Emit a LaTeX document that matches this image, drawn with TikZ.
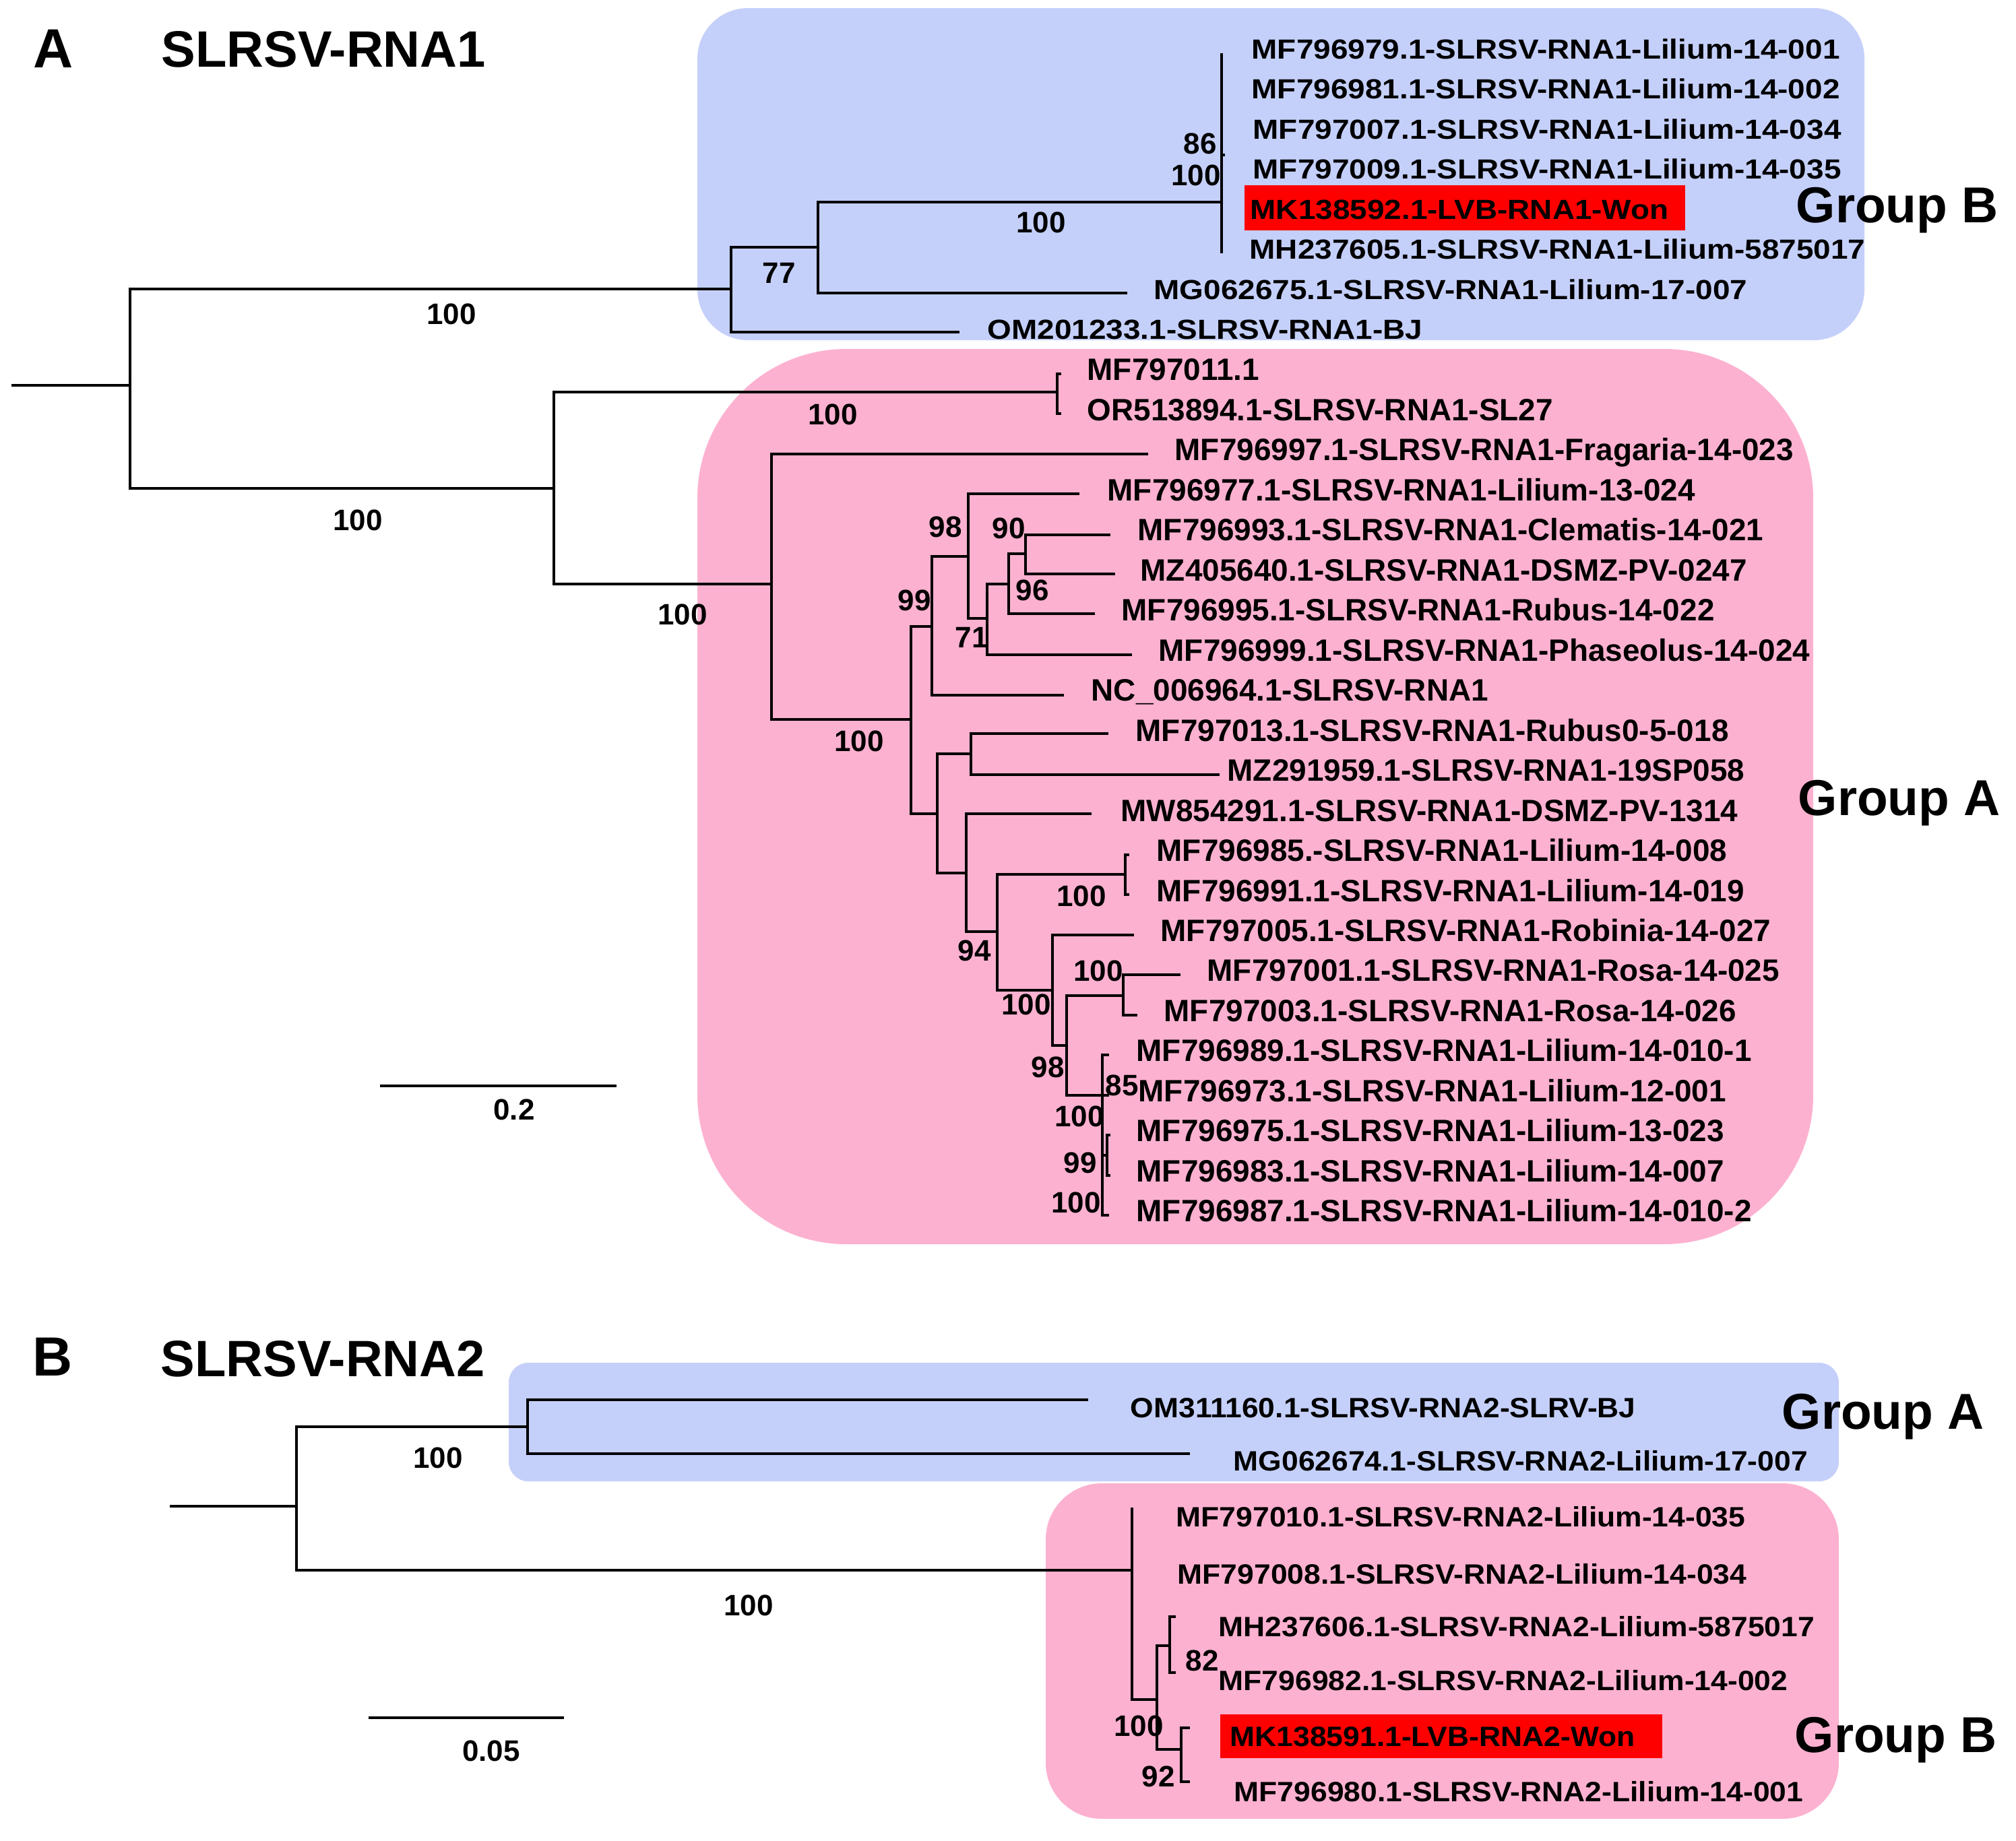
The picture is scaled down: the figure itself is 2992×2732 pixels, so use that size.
\documentclass[tikz,border=0pt]{standalone}
\usepackage{fontspec}
\setmainfont{Liberation Sans}
\newfontfamily\wideA[FakeStretch=1.12]{Liberation Sans}
\newfontfamily\wideB[FakeStretch=1.07]{Liberation Sans}
\definecolor{bbox}{RGB}{197,208,250}
\definecolor{pbox}{RGB}{253,177,208}
\newcommand{\clade}[5]{\draw (#3,#2) -- (#1,#2) -- (#1,#4) -- (#5,#4);}
\tikzset{
  tipP/.style={anchor=west, inner sep=0pt, text height=0.328cm, text depth=0pt,
    font=\bfseries\fontsize{13.05}{14}\selectfont},
  tipA/.style={anchor=west, inner sep=0pt, text height=0.294cm, text depth=0pt,
    font=\wideA\bfseries\fontsize{11.66}{13}\selectfont},
  tipB/.style={anchor=west, inner sep=0pt, text height=0.297cm, text depth=0pt,
    font=\wideB\bfseries\fontsize{11.81}{13}\selectfont},
  bs/.style={anchor=center, inner sep=0pt, text height=0.315cm, text depth=0pt,
    font=\bfseries\fontsize{12.5}{14}\selectfont},
  ttl/.style={anchor=base west, inner sep=0pt, font=\bfseries\fontsize{21.6}{24}\selectfont},
  pnl/.style={anchor=base west, inner sep=0pt, font=\bfseries\fontsize{23.3}{26}\selectfont},
  grp/.style={anchor=base west, inner sep=0pt, font=\bfseries\fontsize{21.3}{24}\selectfont},
  brA/.style={line width=0.048cm, line join=miter},
  brB/.style={line width=0.038cm, line join=miter},
}
\begin{document}
\begin{tikzpicture}[x=0.01cm, y=-0.01cm]
\useasboundingbox (0,0) rectangle (2992,2732);
% boxes
\fill[bbox, rounded corners=0.75cm] (1035,12) rectangle (2767,505);
\fill[pbox, rounded corners=2.21cm] (1035,518) rectangle (2691,1847);
\fill[bbox, rounded corners=0.29cm] (755,2023) rectangle (2729,2199);
\fill[pbox, rounded corners=0.83cm] (1552,2202) rectangle (2729,2700);
\fill[red] (1847,275) rectangle (2501,342);
\fill[red] (1811,2545) rectangle (2467,2610);

% titles
\node[pnl] (pA) at (49,100) {A};
\node[ttl] (tA) at (239,99) {SLRSV-RNA1};
\node[pnl] (pB) at (48,2042) {B};
\node[ttl] (tB) at (238,2043) {SLRSV-RNA2};
\node[grp] (gAB) at (2665,330) {Group B};
\node[grp] (gAA) at (2668,1210) {Group A};
\node[grp] (gBA) at (2644,2121) {Group A};
\node[grp] (gBB) at (2663,2601) {Group B};

% tree A
\begin{scope}[brA]
\draw (17,572) -- (193,572);
\clade{193}{429}{1085}{725}{822}
\clade{1085}{367}{1214}{493}{1424}
\clade{1214}{300}{1813}{435}{1673}
\draw (1813,79) -- (1813,376);
\draw (1813,230) -- (1818,230);
\clade{822}{582}{1569}{867}{1145}
\draw (1575,555) -- (1569,555) -- (1569,614) -- (1575,614);
\clade{1145}{674}{1704}{1068}{1352}
\clade{1352}{930}{1383}{1208}{1391}
\clade{1383}{826}{1437}{1032}{1579}
\clade{1437}{733}{1602}{918}{1465}
\clade{1465}{867}{1497}{972}{1680}
\clade{1497}{822}{1522}{911}{1625}
\clade{1522}{794}{1648}{852}{1655}
\clade{1391}{1119}{1441}{1296}{1434}
\clade{1441}{1089}{1645}{1150}{1810}
\clade{1434}{1208}{1620}{1383}{1480}
\clade{1480}{1298}{1670}{1470}{1562}
\draw (1676,1269) -- (1670,1269) -- (1670,1328) -- (1676,1328);
\clade{1562}{1388}{1683}{1552}{1583}
\clade{1583}{1478}{1667}{1626}{1646}
\clade{1667}{1447}{1752}{1507}{1688}
\draw (1646,1566) -- (1636,1566) -- (1636,1804) -- (1646,1804);
\draw (1636,1715) -- (1643,1715);
\draw (1648,1685) -- (1643,1685) -- (1643,1745) -- (1648,1745);
\draw (564,1612) -- (915,1612);
\end{scope}

% tree B
\begin{scope}[brB]
\draw (252,2236) -- (440,2236);
\clade{440}{2118}{783}{2331}{1680}
\clade{783}{2078}{1615}{2158}{1766}
\draw (1680,2238) -- (1680,2523) -- (1717,2523);
\clade{1717}{2443}{1736}{2597}{1753}
\draw (1745,2400) -- (1736,2400) -- (1736,2483) -- (1745,2483);
\draw (1766,2565) -- (1753,2565) -- (1753,2645) -- (1766,2645);
\draw (547,2550) -- (837,2550);
\end{scope}

% tip labels A, blue group
\foreach \i/\x/\t in {
 1/1857/MF796979.1-SLRSV-RNA1-Lilium-14-001,
 2/1857/MF796981.1-SLRSV-RNA1-Lilium-14-002,
 3/1859/MF797007.1-SLRSV-RNA1-Lilium-14-034,
 4/1859/MF797009.1-SLRSV-RNA1-Lilium-14-035,
 5/1855/MK138592.1-LVB-RNA1-Won,
 6/1854/MH237605.1-SLRSV-RNA1-Lilium-5875017,
 7/1712/MG062675.1-SLRSV-RNA1-Lilium-17-007,
 8/1465/OM201233.1-SLRSV-RNA1-BJ}
 { \node[tipA] (ta\i) at (\x,{72.5+(\i-1)*59.48}) {\t}; }

% tip labels A, pink group
\foreach \i/\x/\t in {
 9/1613/MF797011.1,
 10/1613/OR513894.1-SLRSV-RNA1-SL27,
 11/1743/MF796997.1-SLRSV-RNA1-Fragaria-14-023,
 12/1643/MF796977.1-SLRSV-RNA1-Lilium-13-024,
 13/1688/MF796993.1-SLRSV-RNA1-Clematis-14-021,
 14/1692/MZ405640.1-SLRSV-RNA1-DSMZ-PV-0247,
 15/1664/MF796995.1-SLRSV-RNA1-Rubus-14-022,
 16/1719/MF796999.1-SLRSV-RNA1-Phaseolus-14-024,
 17/1619/NC\_006964.1-SLRSV-RNA1,
 18/1685/MF797013.1-SLRSV-RNA1-Rubus0-5-018,
 19/1821/MZ291959.1-SLRSV-RNA1-19SP058,
 20/1663/MW854291.1-SLRSV-RNA1-DSMZ-PV-1314,
 21/1716/MF796985.-SLRSV-RNA1-Lilium-14-008,
 22/1716/MF796991.1-SLRSV-RNA1-Lilium-14-019,
 23/1722/MF797005.1-SLRSV-RNA1-Robinia-14-027,
 24/1791/MF797001.1-SLRSV-RNA1-Rosa-14-025,
 25/1727/MF797003.1-SLRSV-RNA1-Rosa-14-026,
 26/1686/MF796989.1-SLRSV-RNA1-Lilium-14-010-1,
 27/1689/MF796973.1-SLRSV-RNA1-Lilium-12-001,
 28/1686/MF796975.1-SLRSV-RNA1-Lilium-13-023,
 29/1686/MF796983.1-SLRSV-RNA1-Lilium-14-007,
 30/1686/MF796987.1-SLRSV-RNA1-Lilium-14-010-2}
 { \node[tipP] (tp\i) at (\x,{72.5+(\i-1)*59.48}) {\t}; }

% tip labels B
\node[tipB] (tb1) at (1677,2090) {OM311160.1-SLRSV-RNA2-SLRV-BJ};
\node[tipB] (tb2) at (1830,2169) {MG062674.1-SLRSV-RNA2-Lilium-17-007};
\node[tipB] (tb3) at (1745,2252) {MF797010.1-SLRSV-RNA2-Lilium-14-035};
\node[tipB] (tb4) at (1747,2337) {MF797008.1-SLRSV-RNA2-Lilium-14-034};
\node[tipB] (tb5) at (1808,2415) {MH237606.1-SLRSV-RNA2-Lilium-5875017};
\node[tipB] (tb6) at (1808,2495) {MF796982.1-SLRSV-RNA2-Lilium-14-002};
\node[tipB] (tb7) at (1825,2578) {MK138591.1-LVB-RNA2-Won};
\node[tipB] (tb8) at (1831,2660) {MF796980.1-SLRSV-RNA2-Lilium-14-001};

% bootstrap values A
\foreach \n/\x/\y/\t in {
 1/670/466/100, 2/531/772/100, 3/1236/615/100, 4/1013/912/100, 5/1275/1100/100,
 6/1156/405/77, 7/1545/330/100, 8/1781/213/86, 9/1775/260/100,
 10/1403/782/98, 11/1497/784/90, 12/1357/891/99, 13/1532/876/96, 14/1442/946/71,
 15/1446/1411/94, 16/1605/1330/100, 17/1523/1491/100, 18/1630/1441/100,
 19/1555/1584/98, 20/1665/1611/85, 21/1602/1657/100, 22/1603/1726/99, 23/1597/1785/100}
 { \node[bs] (bsa\n) at (\x,\y) {\t}; }
\node[bs] (scA) at (763,1647) {0.2};

% bootstrap values B
\foreach \n/\x/\y/\t in {
 1/650/2164/100, 2/1111/2383/100, 3/1690/2562/100, 4/1784/2465/82, 5/1719/2637/92}
 { \node[bs] (bsb\n) at (\x,\y) {\t}; }
\node[bs] (scB) at (729,2599) {0.05};
\end{tikzpicture}
\end{document}
